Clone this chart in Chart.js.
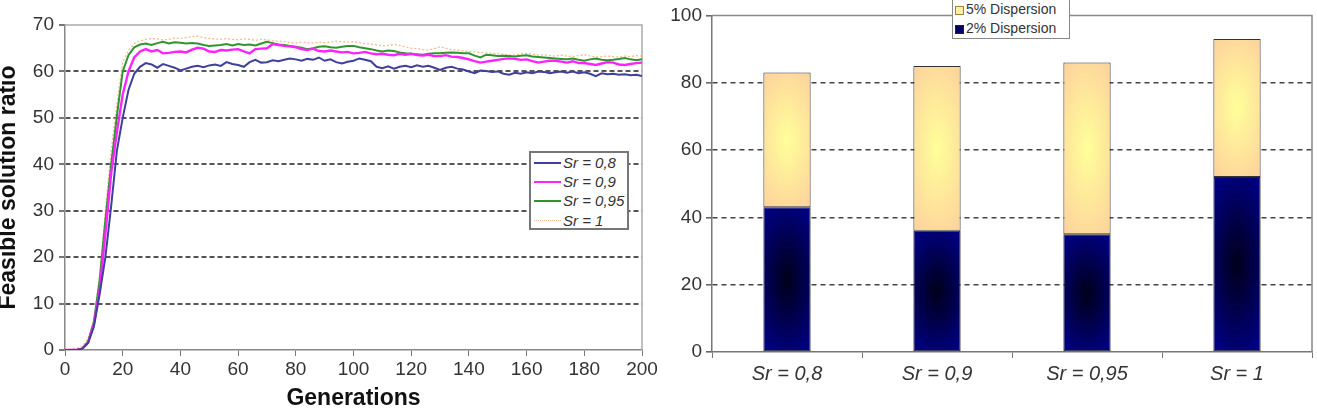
<!DOCTYPE html>
<html>
<head>
<meta charset="utf-8">
<script src="https://cdn.jsdelivr.net/npm/chart.js@4.4.1/dist/chart.umd.min.js"></script>
<style>
  html, body { margin: 0; padding: 0; background: #fff; }
  body { width: 1317px; height: 413px; position: relative; overflow: hidden; font-family: "Liberation Sans", Arial, sans-serif; }
  #left { position: absolute; left: 0; top: 0; }
  #right { position: absolute; left: 660px; top: 0; }
  .legend { position: absolute; background: #fff; box-sizing: border-box; color: #333; }
  #legLeft { left: 529px; top: 151px; width: 100px; height: 79px; border: 2px solid #777; font-size: 15px; font-style: italic; }
  #legLeft .row { position: relative; height: 19.2px; line-height: 19.2px; padding-left: 32px; }
  #legLeft .sw { position: absolute; left: 3px; top: 9px; width: 27px; height: 0; }
  #legRight { left: 952px; top: -1px; width: 118px; height: 40px; border: 1px solid #888; font-size: 14px; }
  #legRight .row { position: relative; height: 19px; line-height: 19px; padding-left: 13px; }
  #legRight .sq { position: absolute; left: 2px; top: 6px; width: 7px; height: 7px; border: 1px solid #333; }
</style>
</head>
<body>
<canvas id="left" width="660" height="413"></canvas>
<canvas id="right" width="657" height="413"></canvas>
<div class="legend" id="legLeft"></div>
<div class="legend" id="legRight"></div>
<script>
// generations (every 2nd one)
const generations = [
  0, 2, 4, 6, 8, 10, 12, 14, 16, 18,
  20, 22, 24, 26, 28, 30, 32, 34, 36, 38,
  40, 42, 44, 46, 48, 50, 52, 54, 56, 58,
  60, 62, 64, 66, 68, 70, 72, 74, 76, 78,
  80, 82, 84, 86, 88, 90, 92, 94, 96, 98,
  100, 102, 104, 106, 108, 110, 112, 114, 116, 118,
  120, 122, 124, 126, 128, 130, 132, 134, 136, 138,
  140, 142, 144, 146, 148, 150, 152, 154, 156, 158,
  160, 162, 164, 166, 168, 170, 172, 174, 176, 178,
  180, 182, 184, 186, 188, 190, 192, 194, 196, 198,
  200
];

const sr08 = [
  0, 0, 0, 0.3, 1.5, 5, 12, 20, 31, 43,
  50, 56, 59.5, 61, 61.8, 61.5, 60.8, 61.6, 61.2, 60.8,
  60.2, 60.6, 61, 61.2, 60.9, 61.3, 61.5, 61.2, 62, 61.6,
  61.4, 61, 62, 62.5, 61.9, 62, 62.4, 62.2, 62.5, 62.8,
  62.6, 62.3, 62.7, 62.5, 63, 62.3, 62.6, 62, 61.7, 62.1,
  62.3, 62.8, 62.5, 62.2, 61, 60.7, 61.1, 60.6, 61, 61.2,
  60.9, 61.3, 61, 61.2, 60.8, 60.3, 60.8, 61, 60.6, 60.4,
  60, 59.6, 60.2, 60.1, 59.9, 60, 59.5, 59.3, 59.7, 59.5,
  59.8, 59.6, 60, 59.9, 59.6, 59.8, 60, 59.7, 60, 59.6,
  59.8, 59.5, 59, 59.6, 59.4, 59.5, 59.3, 59.4, 59.2, 59.3,
  59
];

const sr09 = [
  0, 0, 0, 0.3, 1.6, 5.5, 13, 25, 38, 47,
  55, 60, 63, 64.3, 64.8, 64.3, 64.6, 63.9, 64, 64.2,
  64.3, 64.1, 64.7, 65.1, 64.9, 64.3, 64.2, 64.6, 64.5, 64.7,
  64.8, 64.3, 63.9, 64.8, 64.9, 65, 65.9, 65.7, 65.5, 65.4,
  65.2, 64.8, 64.6, 64.9, 64.4, 64.3, 64.5, 64.3, 64.1, 64.2,
  63.9, 64, 64.2, 63.9, 63.7, 63.8, 63.6, 63.5, 63.8, 63.6,
  63.8, 63.5, 63.4, 63.6, 63.3, 63.3, 63.5, 63.2, 63.1, 62.9,
  62.6, 62.2, 61.9, 62.1, 62.3, 62.5, 62.7, 62.8, 62.7, 62.5,
  62.6, 62.2, 61.9, 62.1, 62.3, 62.3, 62.1, 61.9, 62.2, 61.8,
  61.8, 61.6, 61.4, 61.7, 62, 61.9, 61.5, 61.4, 61.6, 61.8,
  61.9
];

const sr095 = [
  0, 0, 0, 0.3, 1.8, 6, 15, 28, 40, 50.5,
  60, 63.5, 65.2, 65.8, 66, 65.7, 66.1, 66.4, 66, 66.3,
  66.2, 66, 66.1, 66, 65.7, 65.5, 65.6, 65.7, 65.9, 65.6,
  65.9, 65.7, 65.8, 65.6, 66, 66.4, 66.1, 65.8, 65.7, 65.5,
  65.3, 65.1, 64.8, 65, 65.3, 65.4, 65.2, 65.1, 65.3, 65.5,
  65.5, 65.2, 65, 64.8, 64.5, 64.3, 64.5, 64.4, 64.1, 63.9,
  63.8, 63.7, 63.6, 63.8, 63.9, 63.9, 64, 64.1, 64, 63.9,
  63.9, 63.4, 63, 63.6, 63.5, 63.3, 63.4, 63.3, 63.2, 63.4,
  63.5, 63.2, 63.1, 63, 62.9, 62.8, 62.7, 62.6, 62.8, 62.5,
  62.3, 62.6, 62.8, 62.5, 62.4, 62.5, 62.7, 62.9, 62.6, 62.4,
  62.6
];

const sr1 = [
  0, 0.2, 0.3, 0.8, 2.5, 6.5, 16, 30, 43, 53,
  62, 64.5, 66, 66.6, 66.9, 67.1, 67, 66.8, 66.9, 67.2,
  67.1, 67.3, 67.5, 67.6, 67.3, 67.1, 67, 66.9, 67.1, 66.9,
  66.8, 67, 66.9, 66.7, 66.9, 66.8, 66.6, 66.5, 66.4, 66.2,
  66.1, 66.3, 66.2, 66.1, 66.3, 66.2, 66.3, 66.5, 66.4, 66.3,
  66.4, 66.2, 66, 65.9, 65.7, 65.5, 65.6, 65.8, 65.6, 65.3,
  65, 64.9, 64.7, 64.6, 64.9, 65.3, 65, 64.7, 64.6, 64.4,
  64.3, 64.2, 64.1, 64, 63.9, 63.9, 63.7, 63.5, 63.6, 63.8,
  63.9, 63.7, 63.5, 63.6, 63.4, 63.3, 63.5, 63.3, 63.2, 63.4,
  63.6, 63.3, 63.1, 63.2, 63.3, 63.2, 63.1, 63.3, 63.2, 63.4,
  63.3
];

const lineNames = ['Sr = 0,8', 'Sr = 0,9', 'Sr = 0,95', 'Sr = 1'];

const srLabels = ['Sr = 0,8', 'Sr = 0,9', 'Sr = 0,95', 'Sr = 1'];
const disp2 = [43, 36, 35, 52];
const disp5 = [40, 49, 51, 41];

const FONT = '"Liberation Sans", Arial, sans-serif';
const BAR_FRAC = 0.315;

// top + right edges of the plot box
const framePlugin = {
  id: 'frame',
  beforeDatasetsDraw(chart, args, opts) {
    const {ctx, chartArea: a} = chart;
    ctx.save();
    ctx.strokeStyle = opts.color || '#999';
    ctx.lineWidth = opts.width || 1;
    ctx.beginPath();
    ctx.moveTo(a.left, a.top);
    ctx.lineTo(a.right, a.top);
    ctx.lineTo(a.right, a.bottom);
    ctx.stroke();
    ctx.restore();
  }
};

function pts(arr) {
  return arr.map((v, i) => ({x: generations[i], y: v}));
}

const lineStyles = [
  {color: '#3f3f9c', width: 2, dash: []},
  {color: '#ff22ff', width: 2.4, dash: []},
  {color: '#2f952f', width: 2, dash: []},
  {color: '#f8b890', width: 1.3, dash: [2, 2]}
];

new Chart(document.getElementById('left'), {
  type: 'line',
  data: {
    datasets: [sr08, sr09, sr095, sr1].map((arr, k) => ({
      label: lineNames[k],
      data: pts(arr),
      borderColor: lineStyles[k].color,
      borderWidth: lineStyles[k].width,
      borderDash: lineStyles[k].dash,
      pointRadius: 0,
      tension: 0,
      fill: false
    }))
  },
  plugins: [framePlugin],
  options: {
    responsive: false,
    animation: false,
    layout: {padding: {top: 25, right: 18, bottom: 0, left: 0}},
    plugins: {
      legend: {display: false},
      tooltip: {enabled: false},
      frame: {color: '#aaa', width: 1.5}
    },
    scales: {
      x: {
        type: 'linear', min: 0, max: 200,
        ticks: {stepSize: 20, color: '#333', font: {family: FONT, size: 19}, padding: 2, maxRotation: 0},
        grid: {drawOnChartArea: false, color: '#777', tickColor: '#777', tickLength: 6},
        border: {color: '#888', width: 1.5},
        title: {display: true, text: 'Generations', color: '#111', font: {family: FONT, size: 23, weight: 'bold'}, padding: {top: 0, bottom: 1}},
        afterFit(s) { s.height = 63; }
      },
      y: {
        min: 0, max: 70,
        ticks: {stepSize: 10, color: '#333', font: {family: FONT, size: 19}, padding: 5},
        grid: {
          color: c => (c.tick && (c.tick.value === 0 || c.tick.value === 70)) ? 'rgba(0,0,0,0)' : '#555',
          lineWidth: 2, tickColor: '#777', tickLength: 6, tickBorderDash: []
        },
        border: {color: '#888', width: 1.5, dash: [5, 3]},
        title: {display: true, text: 'Feasible solution ratio', color: '#111', font: {family: FONT, size: 23, weight: 'bold'}, padding: {top: -5, bottom: 0}},
        afterFit(s) { s.width = 65; }
      }
    }
  }
});

// elliptical glow used to fill each bar segment
function glowFill(edge, mid, rx, ry) {
  return function (c) {
    if (c.type !== 'data') return edge;
    const chart = c.chart;
    const xs = chart.scales.x, ys = chart.scales.y;
    if (!xs || !ys || !chart.chartArea) return edge;
    const i = c.dataIndex;
    let base = 0;
    for (let k = 0; k < c.datasetIndex; k++) base += chart.data.datasets[k].data[i];
    const val = chart.data.datasets[c.datasetIndex].data[i];
    const cx = xs.getPixelForValue(i);
    const w = Math.round(xs.width / chart.data.labels.length * BAR_FRAC);
    const top = ys.getPixelForValue(base + val);
    const bot = ys.getPixelForValue(base);
    if (!isFinite(cx) || !isFinite(top) || !isFinite(bot) || w < 2) return edge;
    const h = Math.max(2, Math.round(bot - top));
    const oc = document.createElement('canvas');
    oc.width = w + 4; oc.height = h + 4;
    const g = oc.getContext('2d');
    const grad = g.createRadialGradient(0, 0, 0, 0, 0, 1);
    grad.addColorStop(0, mid);
    grad.addColorStop(1, edge);
    g.setTransform(w * rx, 0, 0, h * ry, oc.width / 2, oc.height / 2);
    g.fillStyle = grad;
    g.fillRect(-10, -10, 20, 20);
    const pat = chart.ctx.createPattern(oc, 'no-repeat');
    pat.setTransform(new DOMMatrix([1, 0, 0, 1, cx - oc.width / 2, top - 2]));
    return pat;
  };
}

new Chart(document.getElementById('right'), {
  type: 'bar',
  data: {
    labels: srLabels,
    datasets: [
      {label: '2% Dispersion', data: disp2, backgroundColor: glowFill('#000080', '#00001a', 0.75, 0.55),
       borderColor: '#222', borderWidth: 1, borderSkipped: false},
      {label: '5% Dispersion', data: disp5, backgroundColor: glowFill('#fdd29c', '#ffff99', 0.8, 0.6),
       borderColor: '#333', borderWidth: 1, borderSkipped: false}
    ]
  },
  plugins: [framePlugin],
  options: {
    responsive: false,
    animation: false,
    layout: {padding: {top: 10, right: 5, bottom: 0, left: 0}},
    datasets: {bar: {categoryPercentage: 1, barPercentage: BAR_FRAC}},
    plugins: {
      legend: {display: false},
      tooltip: {enabled: false},
      frame: {color: '#888', width: 1.5}
    },
    scales: {
      x: {
        stacked: true,
        ticks: {color: '#333', font: {family: FONT, size: 20, style: 'italic'}, padding: 4, maxRotation: 0},
        grid: {offset: true, drawOnChartArea: false, color: '#777', tickLength: 6},
        border: {color: '#777', width: 1.5},
        afterFit(s) { s.height = 61; }
      },
      y: {
        stacked: true, min: 0, max: 100,
        ticks: {stepSize: 20, color: '#333', font: {family: FONT, size: 19}, padding: 4},
        grid: {
          color: c => (c.tick && (c.tick.value === 0 || c.tick.value === 100)) ? 'rgba(0,0,0,0)' : '#444',
          lineWidth: 1.6, tickColor: '#666', tickLength: 6, tickBorderDash: []
        },
        border: {color: '#777', width: 1.5, dash: [5, 4]},
        afterFit(s) { s.width = 52; }
      }
    }
  }
});

// legends
const legLeft = document.getElementById('legLeft');
lineNames.forEach((name, k) => {
  const st = lineStyles[k];
  const row = document.createElement('div');
  row.className = 'row';
  const sw = document.createElement('span');
  sw.className = 'sw';
  sw.style.borderTop = (k === 3 ? '1.5px dotted ' : '2px solid ') + st.color;
  row.appendChild(sw);
  row.appendChild(document.createTextNode(name));
  legLeft.appendChild(row);
});

const legRight = document.getElementById('legRight');
[['5% Dispersion', '#fbf0a0', '#a08040'], ['2% Dispersion', '#000060', '#222']].forEach(([name, fill, edge]) => {
  const row = document.createElement('div');
  row.className = 'row';
  const sq = document.createElement('span');
  sq.className = 'sq';
  sq.style.background = fill;
  sq.style.borderColor = edge;
  row.appendChild(sq);
  row.appendChild(document.createTextNode(name));
  legRight.appendChild(row);
});
</script>
</body>
</html>
